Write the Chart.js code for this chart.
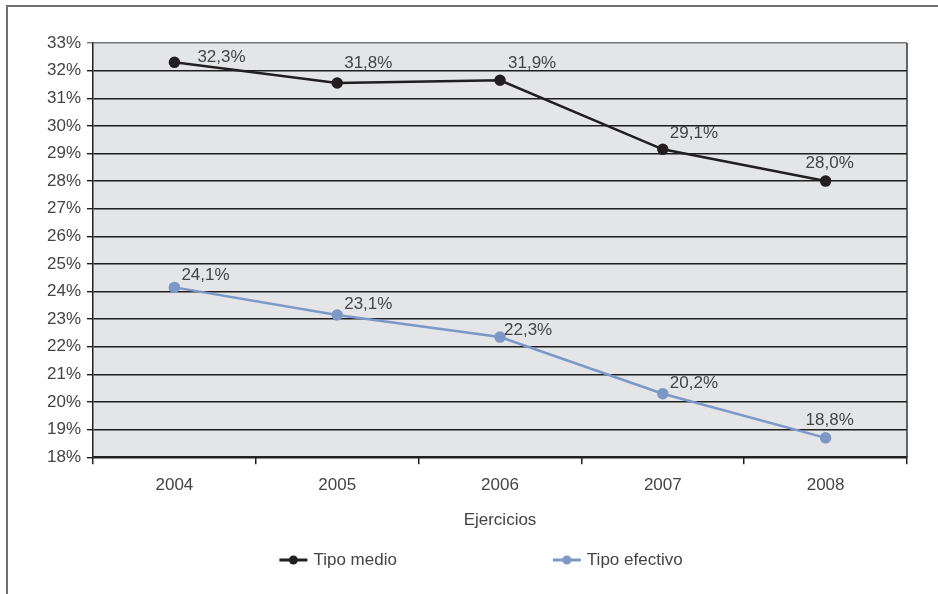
<!DOCTYPE html>
<html>
<head>
<meta charset="utf-8">
<script src="https://cdn.jsdelivr.net/npm/chart.js@4.4.1/dist/chart.umd.min.js"></script>
<style>
html, body { margin: 0; padding: 0; background: #fff; }
#wrap { width: 938px; height: 594px; position: relative; }
</style>
</head>
<body>
<div id="wrap"><canvas id="chart"></canvas></div>
<script>
var years = ['2004', '2005', '2006', '2007', '2008'];
var tipoMedio = [32.3, 31.55, 31.65, 29.15, 28.0];
var tipoMedioText = ['32,3%', '31,8%', '31,9%', '29,1%', '28,0%'];
var tipoEfectivo = [24.15, 23.15, 22.35, 20.3, 18.7];
var tipoEfectivoText = ['24,1%', '23,1%', '22,3%', '20,2%', '18,8%'];
var yMin = 18;
var yMax = 33;
var seriesNames = ['Tipo medio', 'Tipo efectivo'];

var FONT = '"Liberation Sans", Arial, sans-serif';
var TEXT = '#444';
var BLACK = '#231f20';
var BLUE = '#7b98c6';

// background of the plot area and the outer frame
var plotBackground = {
	id: 'plotBackground',
	beforeDraw: function (chart) {
		var ctx = chart.ctx, a = chart.chartArea;
		ctx.save();
		ctx.fillStyle = '#e4e5e7';
		ctx.fillRect(a.left, a.top, a.right - a.left, a.bottom - a.top);
		ctx.strokeStyle = '#6e6e6e';
		ctx.lineWidth = 2;
		ctx.beginPath();
		ctx.moveTo(7, chart.height + 5);
		ctx.lineTo(7, 6);
		ctx.lineTo(chart.width + 5, 6);
		ctx.stroke();
		ctx.restore();
	},
	afterDraw: function (chart) {
		var ctx = chart.ctx, a = chart.chartArea;
		ctx.save();
		ctx.strokeStyle = '#333';
		ctx.lineWidth = 1.5;
		ctx.beginPath();
		ctx.moveTo(a.right, a.top);
		ctx.lineTo(a.right, a.bottom);
		ctx.stroke();
		ctx.restore();
	}
};

// value labels next to the points
var valueLabels = {
	id: 'valueLabels',
	afterDatasetsDraw: function (chart, args, opts) {
		var ctx = chart.ctx;
		ctx.save();
		ctx.font = '17px ' + FONT;
		ctx.fillStyle = TEXT;
		ctx.textAlign = 'left';
		ctx.textBaseline = 'middle';
		chart.data.datasets.forEach(function (ds, d) {
			var meta = chart.getDatasetMeta(d);
			meta.data.forEach(function (pt, i) {
				ctx.fillText(opts.texts[d][i], pt.x + opts.dx[d][i], pt.y + opts.dy[d][i]);
			});
		});
		ctx.restore();
	}
};

// legend: line with a dot, then the series name
var lineLegend = {
	id: 'lineLegend',
	afterDraw: function (chart, args, opts) {
		var ctx = chart.ctx, a = chart.chartArea;
		ctx.save();
		ctx.font = '17px ' + FONT;
		var items = chart.data.datasets.map(function (ds) {
			return { ds: ds, w: opts.marker + opts.gap + ctx.measureText(ds.label).width };
		});
		var total = items.reduce(function (s, it) { return s + it.w; }, 0) + opts.spacing * (items.length - 1);
		var x = (a.left + a.right) / 2 - total / 2 + opts.shift;
		var y = chart.height - opts.bottom;
		items.forEach(function (it) {
			ctx.strokeStyle = it.ds.borderColor;
			ctx.fillStyle = it.ds.borderColor;
			ctx.lineWidth = 3;
			ctx.beginPath();
			ctx.moveTo(x, y);
			ctx.lineTo(x + opts.marker, y);
			ctx.stroke();
			ctx.beginPath();
			ctx.arc(x + opts.marker / 2, y, 4.5, 0, Math.PI * 2);
			ctx.fill();
			ctx.fillStyle = TEXT;
			ctx.textAlign = 'left';
			ctx.textBaseline = 'middle';
			ctx.fillText(it.ds.label, x + opts.marker + opts.gap, y);
			x += it.w + opts.spacing;
		});
		ctx.restore();
	}
};

new Chart(document.getElementById('chart'), {
	type: 'line',
	data: {
		labels: years,
		datasets: [
			{
				label: seriesNames[0],
				data: tipoMedio,
				borderColor: BLACK,
				backgroundColor: BLACK,
				pointBackgroundColor: BLACK,
				pointBorderColor: BLACK,
				borderWidth: 2.5,
				pointRadius: 4.5,
				tension: 0
			},
			{
				label: seriesNames[1],
				data: tipoEfectivo,
				borderColor: BLUE,
				backgroundColor: BLUE,
				pointBackgroundColor: BLUE,
				pointBorderColor: BLUE,
				borderWidth: 2.5,
				pointRadius: 4.5,
				tension: 0
			}
		]
	},
	options: {
		responsive: true,
		maintainAspectRatio: false,
		animation: false,
		layout: { padding: { top: 43, right: 31, bottom: 54, left: 0 } },
		plugins: {
			legend: { display: false },
			tooltip: { enabled: false },
			valueLabels: {
				texts: [tipoMedioText, tipoEfectivoText],
				dx: [[23, 7, 8, 7, -20], [7, 7, 4, 7, -20]],
				dy: [[-5, -20, -17, -16, -18], [-12, -11, -7, -10, -18]]
			},
			lineLegend: { marker: 28, gap: 6, spacing: 156, shift: -19, bottom: 34 }
		},
		scales: {
			x: {
				offset: true,
				grid: {
					offset: true,
					drawOnChartArea: false,
					drawTicks: true,
					tickLength: 7,
					color: '#222',
					lineWidth: 1.5
				},
				border: { display: true, color: '#222', width: 1.5 },
				ticks: { color: TEXT, font: { family: FONT, size: 17 }, padding: 11 },
				title: {
					display: true,
					text: 'Ejercicios',
					color: TEXT,
					font: { family: FONT, size: 17 },
					padding: { top: 4, bottom: 9 }
				}
			},
			y: {
				min: yMin,
				max: yMax,
				afterFit: function (scale) { scale.width = 93; },
				grid: {
					color: function (ctx) { return ctx.tick && ctx.tick.value === yMax ? '#777' : '#1e1e1e'; },
					lineWidth: 1.4,
					tickLength: 6
				},
				border: { display: true, color: '#222', width: 1.5 },
				ticks: {
					stepSize: 1,
					color: TEXT,
					padding: 6,
					font: { family: FONT, size: 17 },
					callback: function (v) { return v + '%'; }
				}
			}
		}
	},
	plugins: [plotBackground, valueLabels, lineLegend]
});
</script>
</body>
</html>
